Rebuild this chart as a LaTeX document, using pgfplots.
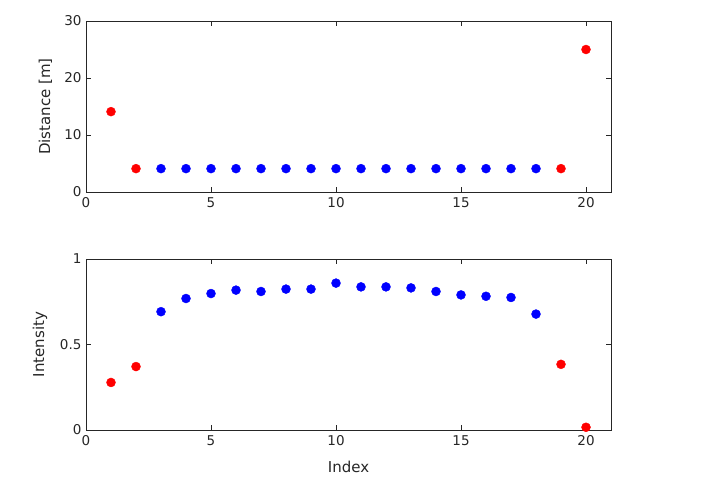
\documentclass[border=0pt]{standalone}
\usepackage{fontspec}
\setmainfont{DejaVu Sans}
\usepackage{pgfplots}
\pgfplotsset{compat=1.18}
\definecolor{axgray}{gray}{0.15}
\pgfplotsset{
  mstyle/.style={
    scale only axis, width=525pt, height=171pt,
    xmin=0, xmax=21, xtick={0,5,10,15,20},
    axis line style={axgray, line width=0.6pt},
    tick style={axgray, line width=0.6pt},
    tick align=inside, major tick length=5pt,
    xtick pos=both, ytick pos=both,
    ticklabel style={font=\fontsize{13.5}{16}\selectfont, text=axgray},
    /pgf/number format/assume math mode=true,
    label style={font=\fontsize{15}{18}\selectfont, text=axgray},
    xticklabel style={yshift=-2pt},
    yticklabel style={xshift=-1pt},
    clip=false,
  },
  redm/.style={only marks, mark=*, mark size=4.5pt, color=red, mark options={fill=red, draw=red}},
  bluem/.style={only marks, mark=*, mark size=4.5pt, color=blue, mark options={fill=blue, draw=blue}},
}
\begin{document}
\begin{tikzpicture}[x=1pt,y=1pt]
\path[use as bounding box] (0,0) rectangle (709,491);
\begin{axis}[mstyle, at={(86pt,299pt)}, anchor=south west,
  ymin=0, ymax=30, ytick={0,10,20,30},
  ylabel={Distance [m]},
  ylabel style={at={(axis description cs:-0.0775,0.5)}, anchor=center, rotate=0}]
\addplot[redm] coordinates {(1,14.1) (2,4.1) (19,4.1) (20,25.0)};
\addplot[bluem] coordinates {(3,4.1) (4,4.1) (5,4.1) (6,4.1) (7,4.1) (8,4.1) (9,4.1) (10,4.1) (11,4.1) (12,4.1) (13,4.1) (14,4.1) (15,4.1) (16,4.1) (17,4.1) (18,4.1)};
\end{axis}
\begin{axis}[mstyle, at={(86pt,61pt)}, anchor=south west,
  ymin=0, ymax=1, ytick={0,0.5,1},
  ylabel={Intensity}, xlabel={Index},
  ylabel style={at={(axis description cs:-0.0876,0.5)}, anchor=center},
  xlabel style={at={(axis description cs:0.5,-0.216)}, anchor=center},
  yticklabel style={/pgf/number format/fixed}]
\addplot[redm] coordinates {(1,0.278) (2,0.371) (19,0.384) (20,0.016)};
\addplot[bluem] coordinates {(3,0.692) (4,0.769) (5,0.798) (6,0.818) (7,0.810) (8,0.824) (9,0.824) (10,0.859) (11,0.837) (12,0.837) (13,0.831) (14,0.810) (15,0.790) (16,0.782) (17,0.775) (18,0.678)};
\end{axis}
\end{tikzpicture}
\end{document}
